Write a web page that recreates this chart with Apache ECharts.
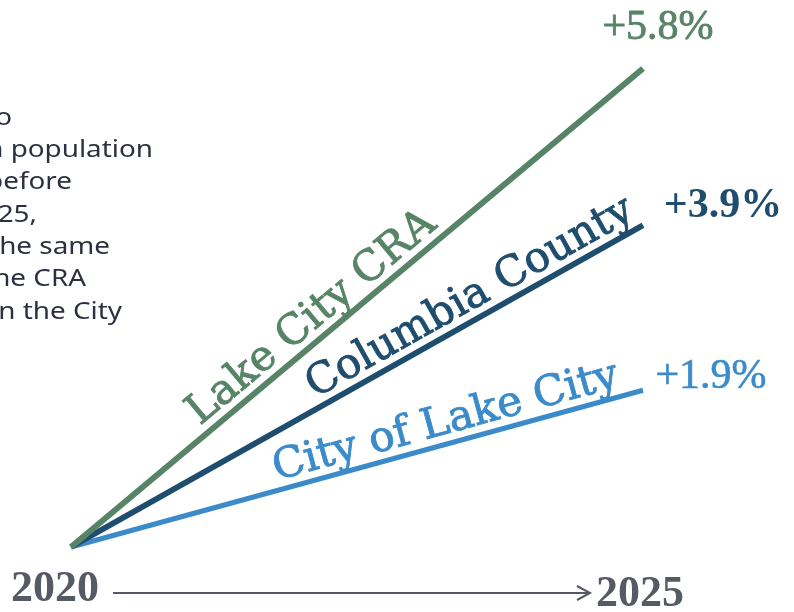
<!DOCTYPE html>
<html><head><meta charset="utf-8">
<script src="https://cdn.jsdelivr.net/npm/echarts@6/dist/echarts.min.js"></script>
<style>html,body{margin:0;padding:0;background:#fff;overflow:hidden}#c{width:794px;height:612px}</style>
</head><body><div id="c"></div>
<script>
// ---- data ----
const years = [2020, 2025];
const seriesNames = ['Lake City CRA', 'Columbia County', 'City of Lake City'];
const startChange = [0, 0, 0];
const endChange = [5.8, 3.9, 1.9];
const pctLabels = ['+5.8%', '+3.9%', '+1.9%'];
const axisLabels = ['2020', '2025'];
const noteLines = [
  'Compared to',
  'the urban population',
  'grew faster before',
  '2020 to 2025,',
  'almost at the same',
  'rate as the CRA',
  'grew more than the City'
];

// ---- styles ----
const colors = ['#578467', '#1f4d6e', '#3b8bcb'];
const lineWidths = [6, 6, 5];
const labelFrac = [0.445, 0.716, 0.665];
const labelSize = [42, 42, 42];
const pctOffset = [[15, -41], [80, -19], [68, -13]];
const pctWeight = ['normal', 'bold', 'normal'];
const pctStroke = [0.8, 0, 0.6];
const noteRight = [12, 153, 72, 37, 110, 86, 122];
const serifFont = '"DejaVu Serif", serif';

const chart = echarts.init(document.getElementById('c'), null, {renderer: 'canvas'});
chart.setOption({
  animation: false,
  backgroundColor: '#fff',
  grid: {left: 71, right: 151, top: 52, bottom: 65},
  xAxis: {type: 'value', min: years[0], max: years[1], show: false},
  yAxis: {type: 'value', min: 0, max: 6, show: false},
  series: seriesNames.map((n, i) => ({
    name: n, type: 'line', symbol: 'none',
    data: [[years[0], startChange[i]], [years[1], endChange[i]]],
    lineStyle: {color: colors[i], width: lineWidths[i], cap: 'butt'},
    z: 3 - i
  }))
});

const g = [];
seriesNames.forEach((n, i) => {
  const p0 = chart.convertToPixel({gridIndex: 0}, [years[0], startChange[i]]);
  const p1 = chart.convertToPixel({gridIndex: 0}, [years[1], endChange[i]]);
  const ang = Math.atan2(p0[1] - p1[1], p1[0] - p0[0]);
  const f = labelFrac[i];
  g.push({
    type: 'text',
    x: p0[0] + (p1[0] - p0[0]) * f,
    y: p0[1] + (p1[1] - p0[1]) * f,
    rotation: ang,
    style: {text: n, x: 0, y: 0, align: 'center', verticalAlign: 'bottom',
      fill: colors[i], stroke: colors[i], lineWidth: 0.9,
      font: 'normal ' + labelSize[i] + 'px ' + serifFont}
  });
  g.push({
    type: 'text',
    x: p1[0] + pctOffset[i][0], y: p1[1] + pctOffset[i][1],
    style: {text: pctLabels[i], align: 'center', verticalAlign: 'middle',
      fill: colors[i], stroke: colors[i], lineWidth: pctStroke[i],
      font: pctWeight[i] + ' 42px "Liberation Serif", serif'}
  });
});

// timeline axis
g.push({type: 'text', x: 55, y: 590, style: {text: axisLabels[0], align: 'center', verticalAlign: 'middle',
  fill: '#565a65', font: 'bold 44px "Liberation Serif", serif'}});
g.push({type: 'text', x: 640, y: 595, style: {text: axisLabels[1], align: 'center', verticalAlign: 'middle',
  fill: '#565a65', font: 'bold 44px "Liberation Serif", serif'}});
g.push({type: 'line', shape: {x1: 113, y1: 593, x2: 589, y2: 593}, style: {stroke: '#565a65', lineWidth: 2}});
g.push({type: 'polyline', shape: {points: [[577, 586], [590, 593], [577, 600]]}, style: {stroke: '#565a65', lineWidth: 2, fill: null}});

// note text (clipped at left edge)
noteLines.forEach((t, k) => {
  g.push({type: 'text', x: noteRight[k], y: 130 + k * 32.3, scaleX: 1.16,
    style: {text: t, align: 'right', verticalAlign: 'bottom', fill: '#2b3140',
      font: 'normal 24px "Noto Sans", sans-serif'}});
});

chart.setOption({graphic: g});
</script></body></html>
